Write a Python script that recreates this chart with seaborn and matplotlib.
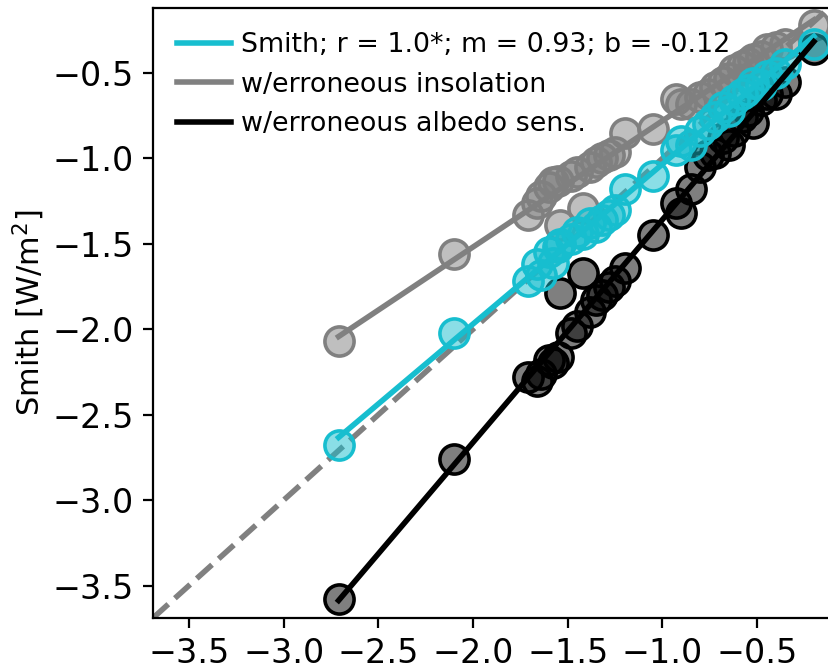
import numpy as np
import matplotlib
matplotlib.use("Agg")
import matplotlib.pyplot as plt
import seaborn as sns
from matplotlib.colors import to_rgba
from matplotlib.ticker import MultipleLocator

plt.rcParams['font.family'] = ['DejaVu Sans']

# x: reference estimate, y: Smith and the two erroneous variants
x_ref = [-2.71, -2.10, -1.71, -1.66, -1.64, -1.60, -1.58, -1.55, -1.54, -1.48,
         -1.45, -1.42, -1.38, -1.35, -1.32, -1.28, -1.25, -1.20, -1.05, -0.93,
         -0.90, -0.85, -0.80, -0.76, -0.72, -0.68, -0.65, -0.62, -0.58, -0.55,
         -0.52, -0.48, -0.45, -0.40, -0.35, -0.20]
y_smith = [-2.68, -2.02, -1.72, -1.62, -1.68, -1.55, -1.61, -1.52, -1.50, -1.47,
           -1.43, -1.44, -1.38, -1.40, -1.36, -1.33, -1.30, -1.18, -1.10, -0.95,
           -0.90, -0.92, -0.84, -0.80, -0.76, -0.70, -0.72, -0.66, -0.62, -0.60,
           -0.56, -0.57, -0.52, -0.50, -0.45, -0.33]
y_insol = [-2.07, -1.56, -1.33, -1.26, -1.22, -1.17, -1.14, -1.13, -1.39, -1.10,
           -1.08, -1.29, -1.05, -1.02, -1.00, -0.98, -0.96, -0.85, -0.83, -0.65,
           -0.68, -0.68, -0.64, -0.62, -0.58, -0.55, -0.53, -0.48, -0.46, -0.44,
           -0.42, -0.40, -0.36, -0.35, -0.33, -0.22]
y_albedo = [-3.58, -2.76, -2.28, -2.30, -2.26, -2.18, -2.20, -2.16, -1.79, -2.02,
            -1.98, -1.67, -1.90, -1.83, -1.80, -1.75, -1.72, -1.64, -1.45, -1.26,
            -1.32, -1.18, -1.05, -0.98, -0.97, -0.88, -0.92, -0.84, -0.76, -0.72,
            -0.79, -0.66, -0.62, -0.62, -0.55, -0.36]

lims = (-3.69, -0.12)

fig = plt.figure(figsize=(4.145, 3.34), dpi=200)
ax = fig.add_axes([0.1846, 0.0749, 0.8154, 0.913])

# 1:1 line
ax.plot(lims, lims, ls='--', color='gray', lw=2, zorder=1)

series = [
    ("Smith; r = 1.0*; m = 0.93; b = -0.12", y_smith, '#17becf'),
    ("w/erroneous insolation", y_insol, 'gray'),
    ("w/erroneous albedo sens.", y_albedo, 'black'),
]

# scatter: gray first, then black, cyan on top
for label, y, c in [series[1], series[2], series[0]]:
    sns.scatterplot(x=x_ref, y=y, ax=ax, s=110, facecolor=to_rgba(c, 0.5),
                    edgecolor=c, linewidth=1.3, zorder=2, legend=False)

handles = []
for label, y, c in series:
    m, b = np.polyfit(x_ref, y, 1)
    xx = np.array([min(x_ref), max(x_ref)])
    ln, = ax.plot(xx, m * xx + b, color=c, lw=2, label=label, zorder=3)
    handles.append(ln)

ax.set_xlim(lims)
ax.set_ylim(lims)
ax.xaxis.set_major_locator(MultipleLocator(0.5))
ax.yaxis.set_major_locator(MultipleLocator(0.5))
ax.set_ylabel('Smith [W/m$^2$]', fontsize=11, labelpad=2)
ax.tick_params(labelsize=12)
ax.spines['right'].set_visible(False)
ax.legend(handles=handles, loc='upper left', frameon=False, fontsize=9.7,
          handletextpad=0.35)

fig.savefig('out.png', dpi=200)
